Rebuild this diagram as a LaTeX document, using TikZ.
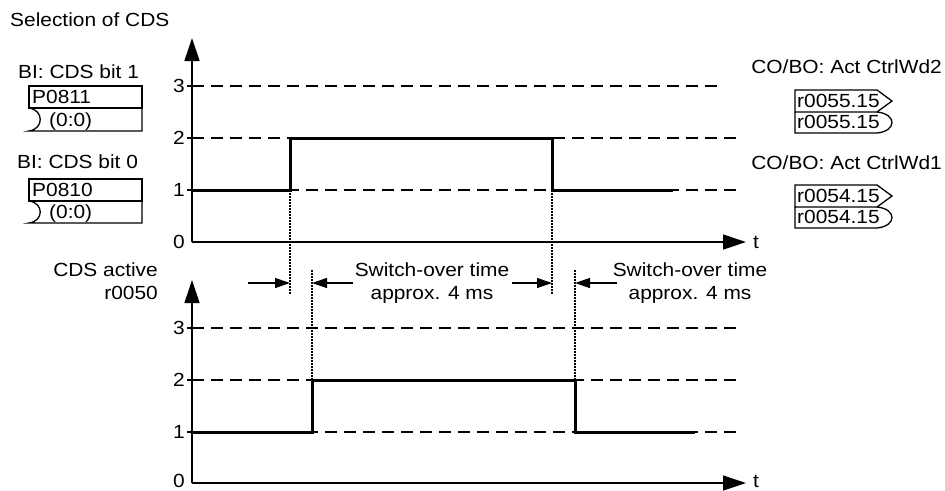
\documentclass[tikz,border=0pt]{standalone}
\usepackage{fontspec}
\setmainfont{Liberation Sans}[FakeStretch=1.1]
\usetikzlibrary{arrows.meta, calc}

\tikzset{
  lvl/.style={line width=1.3pt, dash pattern=on 12pt off 7pt},
  sig/.style={line width=3pt},
  ax/.style={line width=1.3pt, -{Triangle[length=23pt,width=15pt]}},
  dimarrow/.style={line width=1.3pt, -{Triangle[length=15pt,width=10pt]}},
  guide/.style={line width=1.3pt, dash pattern=on 1.5pt off 1.5pt},
  lbl/.style={inner sep=0pt, text height=13.6pt, text depth=0pt, font=\fontsize{19}{22}\selectfont},
  box/.style={line width=1.3pt},
}

\begin{document}
\begin{tikzpicture}[x=1pt,y=-1pt]
    \useasboundingbox (0,0) rectangle (945,490);

    % upper chart: selection of CDS
    \node[lbl, anchor=west] (title) at (10,20) {Selection of CDS};
    \draw[ax] (192,242) -- (192,38);
    \draw[ax] (192,242) -- (746,242);
    \node[lbl, anchor=west] (tup) at (753,242) {t};
    \node[lbl, anchor=east] (up0) at (185,242) {0};
    \foreach \lv/\y in {1/190, 2/138, 3/86} {
        \draw[box] (187,\y) -- (192,\y);
        \node[lbl, anchor=east] (up\lv) at (185,\y) {\lv};
    }
    \draw[lvl] (192,86) -- (723,86);
    \draw[lvl] (192,138) -- (737,138);
    \draw[lvl] (192,190) -- (737,190);
    \draw[sig] (192,190) -- (290,190) -- (290,138) -- (552,138) -- (552,190) -- (673,190);

    % lower chart: CDS active
    \node[lbl, anchor=east] (act) at (158,270) {CDS active};
    \node[lbl, anchor=east] (actpar) at (158,293) {r0050};
    \draw[ax] (192,483) -- (192,280);
    \draw[ax] (192,483) -- (746,483);
    \node[lbl, anchor=west] (tlo) at (753,481) {t};
    \node[lbl, anchor=east] (lo0) at (185,481) {0};
    \foreach \lv/\y in {1/432, 2/380, 3/328} {
        \draw[box] (187,\y) -- (192,\y);
        \node[lbl, anchor=east] (lo\lv) at (185,\y) {\lv};
    }
    \draw[lvl] (192,328) -- (740,328);
    \draw[lvl] (192,380) -- (743,380);
    \draw[lvl] (192,432) -- (743,432);
    \draw[sig] (192,432) -- (312,432) -- (312,380) -- (575,380) -- (575,432) -- (695,432);

    % switch-over times
    \coordinate (ga) at (290,283);
    \coordinate (gb) at (312,283);
    \coordinate (gc) at (552,283);
    \coordinate (gd) at (575,283);
    \draw[guide] (290,190) -- (290,295);
    \draw[guide] (552,190) -- (552,295);
    \draw[guide] (312,270) -- (312,380);
    \draw[guide] (575,270) -- (575,380);
    \draw[dimarrow] ($(ga)+(-42,0)$) -- (ga);
    \draw[dimarrow] ($(gb)+(41,0)$) -- (gb);
    \draw[dimarrow] ($(gc)+(-40,0)$) -- (gc);
    \draw[dimarrow] ($(gd)+(42,0)$) -- (gd);
    \node[lbl] (swa) at (432,270) {Switch-over time};
    \node[lbl] (swb) at (432,293) {approx. 4 ms};
    \node[lbl] (swc) at (690,270) {Switch-over time};
    \node[lbl] (swd) at (690,293) {approx. 4 ms};

    % binector inputs
    \node[lbl, anchor=west] (bi1) at (18,72) {BI: CDS bit 1};
    \draw[box] (29,86) rectangle (142,108);
    \draw[box] (29,108) .. controls (44,110) and (44,129) .. (29,131) -- (142,131) -- (142,108);
    \node[lbl, anchor=west] (p0811) at (32,97) {P0811};
    \node[lbl, anchor=west] (p0811d) at (49,120) {(0:0)};

    \node[lbl, anchor=west] (bi0) at (17,162) {BI: CDS bit 0};
    \draw[box] (29,179) rectangle (142,201);
    \draw[box] (29,201) .. controls (44,203) and (44,221) .. (29,223) -- (142,223) -- (142,201);
    \node[lbl, anchor=west] (p0810) at (32,190) {P0810};
    \node[lbl, anchor=west] (p0810d) at (49,212) {(0:0)};

    % connector outputs
    \node[lbl, anchor=east] (co2) at (942,67) {CO/BO: Act CtrlWd2};
    \draw[box] (795,90) -- (877,90) -- (892,101) -- (877,112) -- (795,112) -- cycle;
    \draw[box] (795,112) -- (795,133) -- (877,133) .. controls (897,131) and (897,114) .. (877,112);
    \node[lbl, anchor=west] (r55a) at (797,101) {r0055.15};
    \node[lbl, anchor=west] (r55b) at (797,122) {r0055.15};

    \node[lbl, anchor=east] (co1) at (942,163) {CO/BO: Act CtrlWd1};
    \draw[box] (795,185) -- (877,185) -- (892,196) -- (877,207) -- (795,207) -- cycle;
    \draw[box] (795,207) -- (795,228) -- (877,228) .. controls (897,226) and (897,209) .. (877,207);
    \node[lbl, anchor=west] (r54a) at (797,196) {r0054.15};
    \node[lbl, anchor=west] (r54b) at (797,217) {r0054.15};
\end{tikzpicture}
\end{document}
